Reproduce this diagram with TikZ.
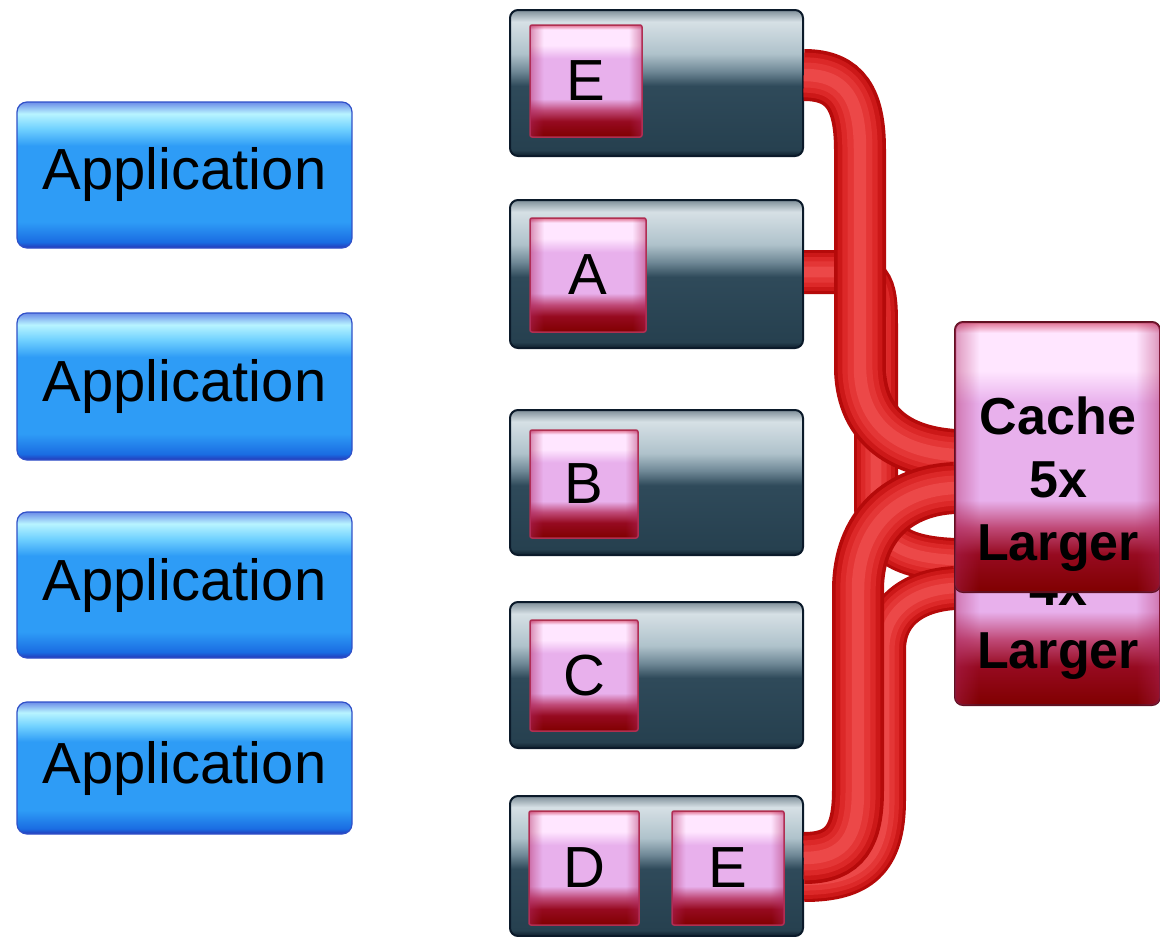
\documentclass[tikz,border=0pt]{standalone}
\usepackage{fontspec}
\setmainfont{Liberation Sans}
\usetikzlibrary{fadings}
\definecolor{appE}{HTML}{2438B8}
\definecolor{appD}{HTML}{1A6CE2}
\definecolor{appB}{HTML}{2E9CF6}
\definecolor{appL}{HTML}{72D2FF}
\definecolor{appLL}{HTML}{B8F4FF}
\definecolor{appE2}{HTML}{6C8CE8}
\definecolor{srvE}{HTML}{0E1E2C}
\definecolor{srvD}{HTML}{26404F}
\definecolor{srvM}{HTML}{2F4A5A}
\definecolor{srvT}{HTML}{6F8896}
\definecolor{srvL2}{HTML}{AFC2CB}
\definecolor{srvL}{HTML}{D6E0E5}
\definecolor{srvE2}{HTML}{7E8E98}
\definecolor{pkD}{HTML}{800000}
\definecolor{pkD2}{HTML}{960A20}
\definecolor{pkR}{HTML}{C04A78}
\definecolor{pkM}{HTML}{E8B0EC}
\definecolor{pkL}{HTML}{FFE6FF}
\definecolor{pkE}{HTML}{E07090}
\definecolor{pkB}{HTML}{B03050}
\definecolor{pkS}{HTML}{B02860}
\definecolor{cacheB}{HTML}{601020}
\definecolor{tubeA}{HTML}{B50A0A}
\definecolor{tubeB}{HTML}{CC1818}
\definecolor{tubeC}{HTML}{DC2828}
\definecolor{tubeD}{HTML}{E43636}
\definecolor{tubeF}{HTML}{EC4848}
\definecolor{appBorder}{HTML}{3050C8}
\definecolor{srvBorder}{HTML}{0B1A2A}
\pgfdeclareverticalshading{appshade}{100bp}{color(0bp)=(appE); color(25bp)=(appE); color(27bp)=(appD); color(34bp)=(appB); color(60bp)=(appB); color(66bp)=(appL); color(71bp)=(appLL); color(75bp)=(appE2); color(100bp)=(appE2)}
\pgfdeclareverticalshading{srvshade}{100bp}{color(0bp)=(srvE); color(25bp)=(srvE); color(27bp)=(srvD); color(49bp)=(srvM); color(54bp)=(srvT); color(60bp)=(srvL2); color(71bp)=(srvL); color(75bp)=(srvE2); color(100bp)=(srvE2)}
\pgfdeclareverticalshading{pkshade}{100bp}{color(0bp)=(pkD); color(25bp)=(pkD); color(32bp)=(pkD2); color(37bp)=(pkR); color(42bp)=(pkM); color(60bp)=(pkM); color(66bp)=(pkL); color(73bp)=(pkL); color(75bp)=(pkE); color(100bp)=(pkE)}
\pgfdeclarehorizontalshading{sidemask}{100bp}{color(0bp)=(white); color(25bp)=(white); color(26.5bp)=(white!70!black); color(31bp)=(black); color(69bp)=(black); color(73.5bp)=(white!70!black); color(75bp)=(white); color(100bp)=(white)}
\pgfdeclarefading{sidefade}{\pgfuseshading{sidemask}}
\begin{document}
\begin{tikzpicture}[x=1pt,y=-1pt,
  appbox/.style={rectangle, rounded corners=10pt, shading=appshade, draw=appBorder, line width=1.2pt, minimum width=335pt, inner sep=0pt, font=\fontsize{58}{64}\selectfont},
  srvbox/.style={rectangle, rounded corners=8pt, shading=srvshade, draw=srvBorder, line width=2pt, minimum width=293pt, inner sep=0pt},
  pkbox/.style={rectangle, rounded corners=2pt, shading=pkshade, draw=pkB, line width=1.5pt, inner sep=0pt, font=\fontsize{58}{60}\selectfont,
    postaction={fill=pkS, path fading=sidefade, fill opacity=0.5}},
  cachebox/.style={rectangle, rounded corners=8pt, shading=pkshade, draw=cacheB, line width=2pt, minimum width=205pt, inner sep=0pt,
    postaction={fill=pkS, path fading=sidefade, fill opacity=0.45}},
  cachetext/.style={inner sep=0pt, align=center, font=\fontsize{52}{63}\selectfont\bfseries},
  tube/.style={draw=tubeA, line width=#1,
    postaction={draw=tubeB, line width=0.86*#1},
    postaction={draw=tubeC, line width=0.68*#1},
    postaction={draw=tubeD, line width=0.48*#1},
    postaction={draw=tubeF, line width=0.24*#1}}
]
\useasboundingbox (0,0) rectangle (1160,937);
% applications
\node[appbox, minimum height=146pt] (app1) at (184.5,175) {Application};
\node[appbox, minimum height=147pt] (app2) at (184.5,386.5) {Application};
\node[appbox, minimum height=146pt] (app3) at (184.5,585) {Application};
\node[appbox, minimum height=132pt] (app4) at (184.5,768) {Application};
% servers
\node[srvbox, minimum height=146pt] (s1) at (656.5,83) {};
\node[srvbox, minimum height=148pt] (s2) at (656.5,274) {};
\node[srvbox, minimum height=145pt] (s3) at (656.5,482.5) {};
\node[srvbox, minimum height=146pt] (s4) at (656.5,675) {};
\node[srvbox, minimum height=140pt] (s5) at (656.5,866) {};
% blocks
\node[pkbox, minimum width=112pt, minimum height=112pt] (bE1) at (586,81) {E};
\node[pkbox, minimum width=116pt, minimum height=114pt] (bA) at (588,275) {A};
\node[pkbox, minimum width=108pt, minimum height=108pt] (bB) at (584,484) {B};
\node[pkbox, minimum width=108pt, minimum height=111pt] (bC) at (584,675.5) {C};
\node[pkbox, minimum width=110pt, minimum height=114pt] (bD) at (584,868) {D};
\node[pkbox, minimum width=112pt, minimum height=114pt] (bE2) at (728,868) {E};
% back cache entry point
\coordinate (cBw) at (955,567.5);
% back tubes
\draw[tube=44pt] ([yshift=2pt]s2.east) -- (835,272) .. controls (876,272) and (876,290) .. (876,330) -- (876,505) .. controls (876,545) and (905,558) .. ([yshift=7.5pt]cBw);
\draw[tube=44pt] ([yshift=-14pt]s5.east) .. controls +(55,0) and (884,860) .. (884,800) -- (884,650) .. controls (884,610) and (915,590) .. ([yshift=-20.5pt]cBw);
% back cache
\node[cachebox, minimum height=275pt] (cacheBack) at (1057.5,567.5) {};
\node[cachetext] (tBack) at (1058,624.5) {4x\\Larger};
% front tubes
\coordinate (cFw) at (955,457);
\draw[tube=52pt] ([yshift=8pt]s1.east) .. controls +(42,0) and (860,100) .. (860,150) -- (860,370) .. controls (862,430) and (905,452) .. ([yshift=2pt]cFw);
\draw[tube=52pt] ([yshift=8pt]s5.east) .. controls +(42,0) and (858,835) .. (858,790) -- (858,590) .. controls (858,525) and (900,490) .. ([yshift=-31pt]cFw);
% front cache
\node[cachebox, minimum height=270pt] (cacheFront) at (1057.5,457) {};
\node[cachetext] (tFront) at (1058,484.5) {Cache\\5x\\Larger};
\end{tikzpicture}
\end{document}
